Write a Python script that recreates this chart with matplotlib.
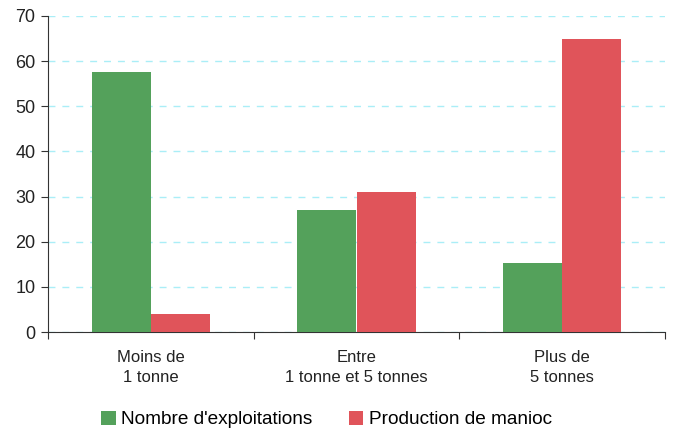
import matplotlib
matplotlib.use("Agg")
import matplotlib.pyplot as plt
import numpy as np

categories = ["Moins de\n1 tonne", "Entre\n1 tonne et 5 tonnes", "Plus de\n5 tonnes"]
series_names = ["Nombre d'exploitations", "Production de manioc"]
exploitations = [57.6, 27.0, 15.3]
production = [4.0, 31.0, 64.9]
colors = ["#54a15b", "#e0545a"]

plt.rcParams['font.family'] = ['Liberation Sans', 'DejaVu Sans']

fig = plt.figure(figsize=(6.75, 4.36), dpi=100)
ax = fig.add_axes([48/675, 1-332/436, 617/675, 316/436])

x = np.arange(len(categories))
w = 0.287
ax.bar(x - w/2, exploitations, w, color=colors[0], label=series_names[0], zorder=3)
ax.bar(x + w/2, production, w, color=colors[1], label=series_names[1], zorder=3)

ax.set_xlim(-0.5, 2.5)
ax.set_ylim(0, 70)
ax.set_yticks(range(0, 71, 10))
ax.yaxis.grid(True, color="#aaeef7", linestyle=(0, (5, 5)), linewidth=1, zorder=0)
ax.set_axisbelow(True)

ax.set_xticks([-0.5, 0.5, 1.5, 2.5])
ax.set_xticklabels([])
ax.set_xticks(x, minor=True)
ax.set_xticklabels(categories, minor=True, fontsize=12, color="#222222", linespacing=1.45)
ax.tick_params(axis='x', which='minor', length=0, pad=13)
ax.tick_params(axis='x', which='major', length=5, direction='out', color="#333333")
ax.tick_params(axis='y', labelsize=13, length=5, color="#333333", labelcolor="#222222", pad=4)

for s in ["top", "right"]:
    ax.spines[s].set_visible(False)
for s in ["left", "bottom"]:
    ax.spines[s].set_color("#333333")

fig.legend(loc="lower center", bbox_to_anchor=(0.484, -0.022), ncol=2, frameon=False,
           fontsize=13.7, handlelength=0.75, handleheight=0.75, handletextpad=0.3,
           columnspacing=1.9)

fig.savefig("out.png", dpi=100)
